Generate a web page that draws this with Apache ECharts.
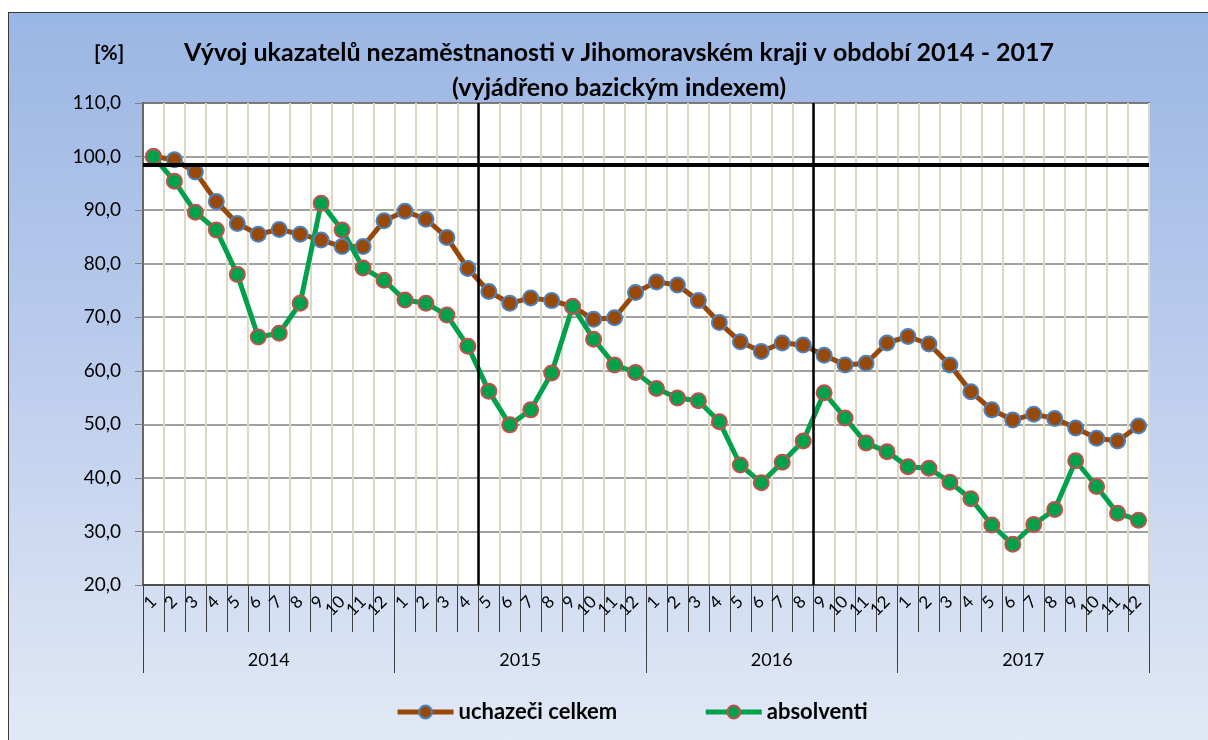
<!DOCTYPE html>
<html>
<head>
<meta charset="utf-8">
<script src="https://cdn.jsdelivr.net/npm/echarts@6/dist/echarts.min.js"></script>
<style>
  html, body { margin: 0; padding: 0; background: #fff; }
  #frame {
    position: absolute; left: 8px; top: 12px; width: 1200px; height: 728px;
    box-sizing: border-box; border-left: 1px solid #3a3a3a; border-top: 1px solid #3a3a3a;
    background: linear-gradient(to bottom, #9ab6e4 0%, #b9cbec 45%, #e2e9f6 100%);
  }
  #chart { position: absolute; left: 0; top: 0; width: 1208px; height: 740px; }
</style>
</head>
<body>
<div id="frame"></div>
<div id="chart"></div>
<script>
// kategorie
const years = ['2014', '2015', '2016', '2017']
const months = ['1', '2', '3', '4', '5', '6', '7', '8', '9', '10', '11', '12']

// bazicky index [%]
const uchazeci = [
  100.0, 99.4, 97.1, 91.6, 87.5, 85.5, 86.4, 85.5, 84.4, 83.2, 83.2, 88.0,
  89.8, 88.3, 84.9, 79.1, 74.8, 72.6, 73.6, 73.1, 72.0, 69.6, 69.9, 74.6,
  76.6, 76.0, 73.1, 69.0, 65.4, 63.6, 65.2, 64.8, 62.9, 61.1, 61.4, 65.2,
  66.4, 65.0, 61.1, 56.1, 52.7, 50.8, 51.9, 51.1, 49.3, 47.4, 46.9, 49.7
]
const absolventi = [
  100.0, 95.4, 89.6, 86.3, 78.0, 66.3, 67.0, 72.6, 91.3, 86.3, 79.2, 76.9,
  73.2, 72.6, 70.4, 64.6, 56.2, 49.9, 52.7, 59.6, 72.0, 65.9, 61.1, 59.7,
  56.7, 54.9, 54.4, 50.5, 42.4, 39.1, 42.9, 46.9, 55.9, 51.2, 46.5, 44.9,
  42.1, 41.8, 39.2, 36.1, 31.2, 27.6, 31.3, 34.1, 43.2, 38.4, 33.4, 32.1
]

// referencni cary
const baseLine = 98.4
const dividers = [16, 32]

const monthCats = []
years.forEach(function (y) {
  months.forEach(function (m) { monthCats.push(m) })
})

const font = 'Lato, "Open Sans", sans-serif'

const chart = echarts.init(document.getElementById('chart'))
const option = {
  animation: false,
  textStyle: { fontFamily: font },
  title: {
    text: 'Vývoj ukazatelů nezaměstnanosti v Jihomoravském kraji v období 2014 - 2017\n(vyjádřeno bazickým indexem)',
    left: 614,
    top: 30,
    textAlign: 'center',
    textStyle: { fontFamily: font, fontSize: 25, fontWeight: 'bold', color: '#000', lineHeight: 35 }
  },
  graphic: [
    {
      type: 'text', left: 94, top: 43,
      style: { text: '[%]', font: 'bold 21px ' + font, fill: '#000' }
    }
  ],
  legend: {
    left: 390,
    top: 696,
    itemWidth: 56,
    itemHeight: 16,
    itemGap: 86,
    lineStyle: { width: 5 },
    textStyle: { fontFamily: font, fontSize: 22, fontWeight: 'bold', color: '#000' },
    data: ['uchazeči celkem', 'absolventi']
  },
  grid: {
    left: 143, top: 103, width: 1006, height: 482,
    show: true, backgroundColor: '#fff', borderColor: '#404040', borderWidth: 1.5
  },
  xAxis: [
    {
      type: 'category',
      data: monthCats,
      position: 'bottom',
      axisLine: { lineStyle: { color: '#404040', width: 1.5 } },
      axisTick: { show: true, interval: 0, length: 47, lineStyle: { color: '#404040' } },
      axisLabel: { interval: 0, rotate: 45, margin: 14, fontSize: 17, color: '#000' },
      splitLine: { show: true, interval: 0, lineStyle: { color: '#ddd8c0', width: 2 } }
    },
    {
      type: 'category',
      data: years,
      position: 'bottom',
      axisLine: { show: false },
      axisTick: { show: true, interval: 0, length: 88, lineStyle: { color: '#404040' } },
      axisLabel: { margin: 66, fontSize: 18, color: '#000' },
      splitLine: { show: false }
    },
    {
      type: 'value', min: 0, max: 48, show: false
    }
  ],
  yAxis: {
    type: 'value',
    min: 20, max: 110, interval: 10,
    axisLine: { show: true, lineStyle: { color: '#404040', width: 1.5 } },
    axisTick: { show: true, length: 8, lineStyle: { color: '#808080' } },
    axisLabel: {
      margin: 22, fontSize: 19, color: '#000',
      formatter: function (v) { return v.toFixed(1).replace('.', ',') }
    },
    splitLine: { lineStyle: { color: '#808080', width: 1.5 } }
  },
  series: [
    {
      name: 'uchazeči celkem',
      type: 'line',
      data: uchazeci,
      symbol: 'circle',
      symbolSize: 15,
      lineStyle: { color: '#984807', width: 5 },
      itemStyle: { color: '#984807', borderColor: '#4f81bd', borderWidth: 2 }
    },
    {
      name: 'absolventi',
      type: 'line',
      data: absolventi,
      symbol: 'circle',
      symbolSize: 15,
      lineStyle: { color: '#00a14b', width: 5 },
      itemStyle: { color: '#00a14b', borderColor: '#c0504d', borderWidth: 2 }
    },
    {
      // jen pro svisle a vodorovne cary
      type: 'line',
      xAxisIndex: 2,
      data: [],
      silent: true,
      markLine: {
        symbol: 'none',
        silent: true,
        label: { show: false },
        data: [
          { yAxis: baseLine, lineStyle: { color: '#000', width: 4, type: 'solid' } },
          { xAxis: dividers[0], lineStyle: { color: '#000', width: 2.5, type: 'solid' } },
          { xAxis: dividers[1], lineStyle: { color: '#000', width: 2.5, type: 'solid' } }
        ]
      }
    }
  ]
}
chart.setOption(option)
</script>
</body>
</html>
